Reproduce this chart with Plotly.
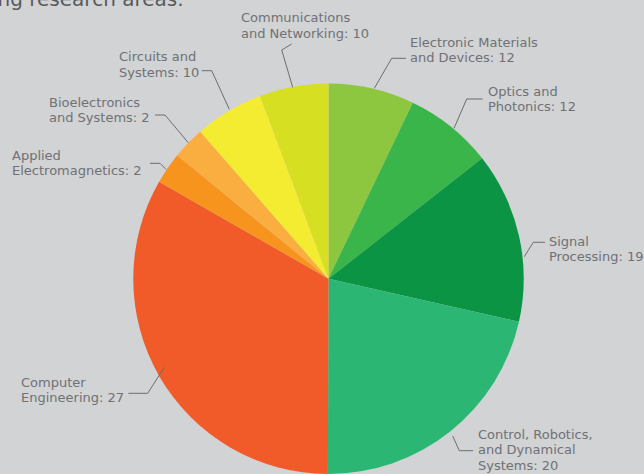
import plotly.graph_objects as go

W, H = 644, 474

# ---- data ----
areas = ["Electronic Materials and Devices", "Optics and Photonics", "Signal Processing",
         "Control, Robotics, and Dynamical Systems", "Computer Engineering",
         "Applied Electromagnetics", "Bioelectronics and Systems", "Circuits and Systems",
         "Communications and Networking"]
counts = [12, 12, 19, 20, 27, 2, 2, 10, 10]
# share of the circle as drawn in the reference (percent)
slice_share = [7.1, 7.3, 14.1, 21.5, 33.2, 2.6, 2.7, 5.7, 5.7]
colors = ["#8dc63f", "#3ab54a", "#0b9444", "#2bb673", "#f15a29",
          "#f7941e", "#fbae40", "#f4ec30", "#d7df23"]
label_lines = [
    ["Electronic Materials", "and Devices: {}"],
    ["Optics and", "Photonics: {}"],
    ["Signal", "Processing: {}"],
    ["Control, Robotics,", "and Dynamical", "Systems: {}"],
    ["Computer", "Engineering: {}"],
    ["Applied", "Electromagnetics: {}"],
    ["Bioelectronics", "and Systems: {}"],
    ["Circuits and", "Systems: {}"],
    ["Communications", "and Networking: {}"],
]

# ---- layout positions (pixels) ----
label_xy = [(409, 42), (487, 91), (548, 241), (477, 434), (20, 382),
            (11, 155), (48, 102), (118, 57), (240, 18)]
line_gap = 15.7
leaders = [
    [(406, 58.3), (391.7, 58.3), (374.3, 88.3)],
    [(482.7, 99), (466.7, 99), (454, 128.3)],
    [(545, 242.3), (533.3, 242.3), (524.3, 256.7)],
    [(452.7, 436), (459.3, 450.7), (473.3, 450.7)],
    [(128.3, 393.3), (147.7, 393.3), (164.3, 367.3)],
    [(150, 163.3), (160, 163.3), (166, 169.3)],
    [(155, 115), (165, 115), (188.3, 142.7)],
    [(201.7, 70.7), (211.7, 70.7), (229.3, 109.3)],
    [(291.7, 44), (281.7, 50), (292.7, 87.3)],
]

def px(x):
    return x / W

def py(y):
    return 1 - y / H

cx, top = 328.5, 83.5
diam = H - top
r = diam / 2

fig = go.Figure(go.Pie(
    labels=areas, values=slice_share, customdata=counts,
    marker=dict(colors=colors, line=dict(width=0)),
    sort=False, direction="clockwise", rotation=0,
    textinfo="none", showlegend=False,
    hovertemplate="%{label}: %{customdata}<extra></extra>",
    domain=dict(x=[px(cx - r), px(cx + r)], y=[0, py(top)]),
))

text_col = "#707174"
annotations = []
for lines, (x0, y0), n in zip(label_lines, label_xy, counts):
    for i, t in enumerate(lines):
        annotations.append(dict(
            x=px(x0), y=py(y0 + i * line_gap), xref="paper", yref="paper",
            xanchor="left", yanchor="middle", showarrow=False, borderpad=0,
            text=t.format(n), font=dict(family="DejaVu Sans", size=13, color=text_col)))

annotations.append(dict(
    x=px(185), y=py(12), xref="paper", yref="paper", xanchor="right", yanchor="bottom",
    showarrow=False, borderpad=0, text="ing research areas.",
    font=dict(family="DejaVu Sans", size=20, color="#58595b")))

shapes = []
for pts in leaders:
    path = "M " + " L ".join(f"{px(x):.5f},{py(y):.5f}" for x, y in pts)
    shapes.append(dict(type="path", path=path, xref="paper", yref="paper",
                       line=dict(color="#6d6e71", width=1)))

fig.update_layout(
    width=W, height=H, margin=dict(l=0, r=0, t=0, b=0),
    paper_bgcolor="#d1d3d4", plot_bgcolor="#d1d3d4",
    annotations=annotations, shapes=shapes,
)

fig.write_html("out.html")
